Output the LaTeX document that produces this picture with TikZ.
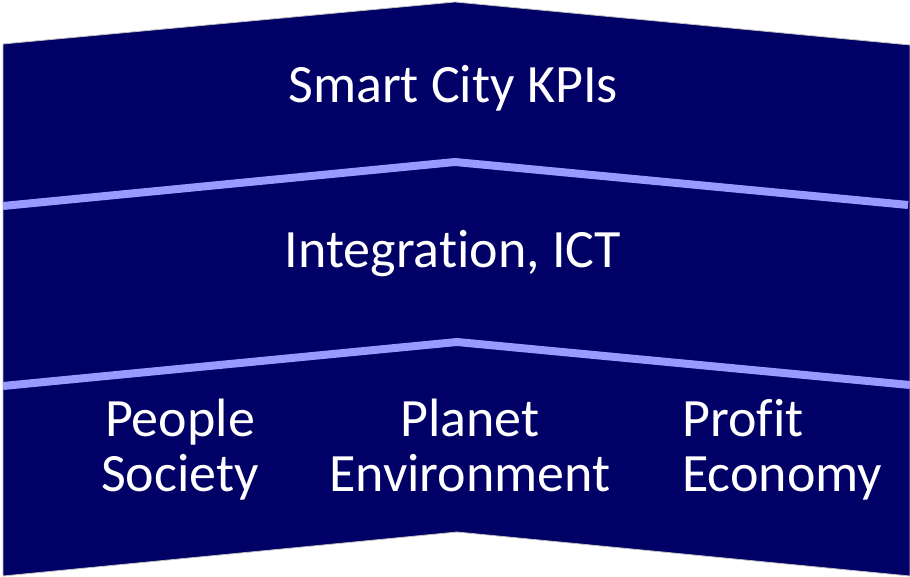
\documentclass[tikz,border=0pt]{standalone}
\usepackage{fontspec}
\setmainfont[Ligatures=NoCommon]{Carlito}
\definecolor{navy}{RGB}{0,0,102}
\definecolor{band}{RGB}{153,153,255}
\begin{document}
\begin{tikzpicture}[x=1pt,y=1pt,
  lbl/.style={text=white,font=\fontsize{54}{55}\selectfont,inner sep=0pt},
  divider/.style={draw=band,line width=8pt}]
\useasboundingbox (0,0) rectangle (910,577);
\path[fill=navy,draw=gray!50,line width=0.8pt] (3,533) -- (455,575) -- (910,532) -- (910,1) -- (457,45) -- (3,1) -- cycle;
\coordinate (a1) at (3,371); \coordinate (a2) at (455,415); \coordinate (a3) at (908,372);
\coordinate (b1) at (3,191); \coordinate (b2) at (457,235); \coordinate (b3) at (910,192);
\draw[divider] (a1) -- (a2) -- (a3);
\draw[divider] (b1) -- (b2) -- (b3);
\node[lbl,anchor=base] (kpi) at (453,474) {Smart City KPIs};
\node[lbl,anchor=base] (ict) at (453,309) {Integration, ICT};
\node[lbl,anchor=base] (p1) at (180,140) {People};
\node[lbl,anchor=base] (p2) at (180,85) {Society};
\node[lbl,anchor=base] (q1) at (470,140) {Planet};
\node[lbl,anchor=base] (q2) at (470,85) {Environment};
\node[lbl,anchor=base west] (r1) at (682,140) {Profit};
\node[lbl,anchor=base west] (r2) at (682,85) {Economy};
\end{tikzpicture}
\end{document}
